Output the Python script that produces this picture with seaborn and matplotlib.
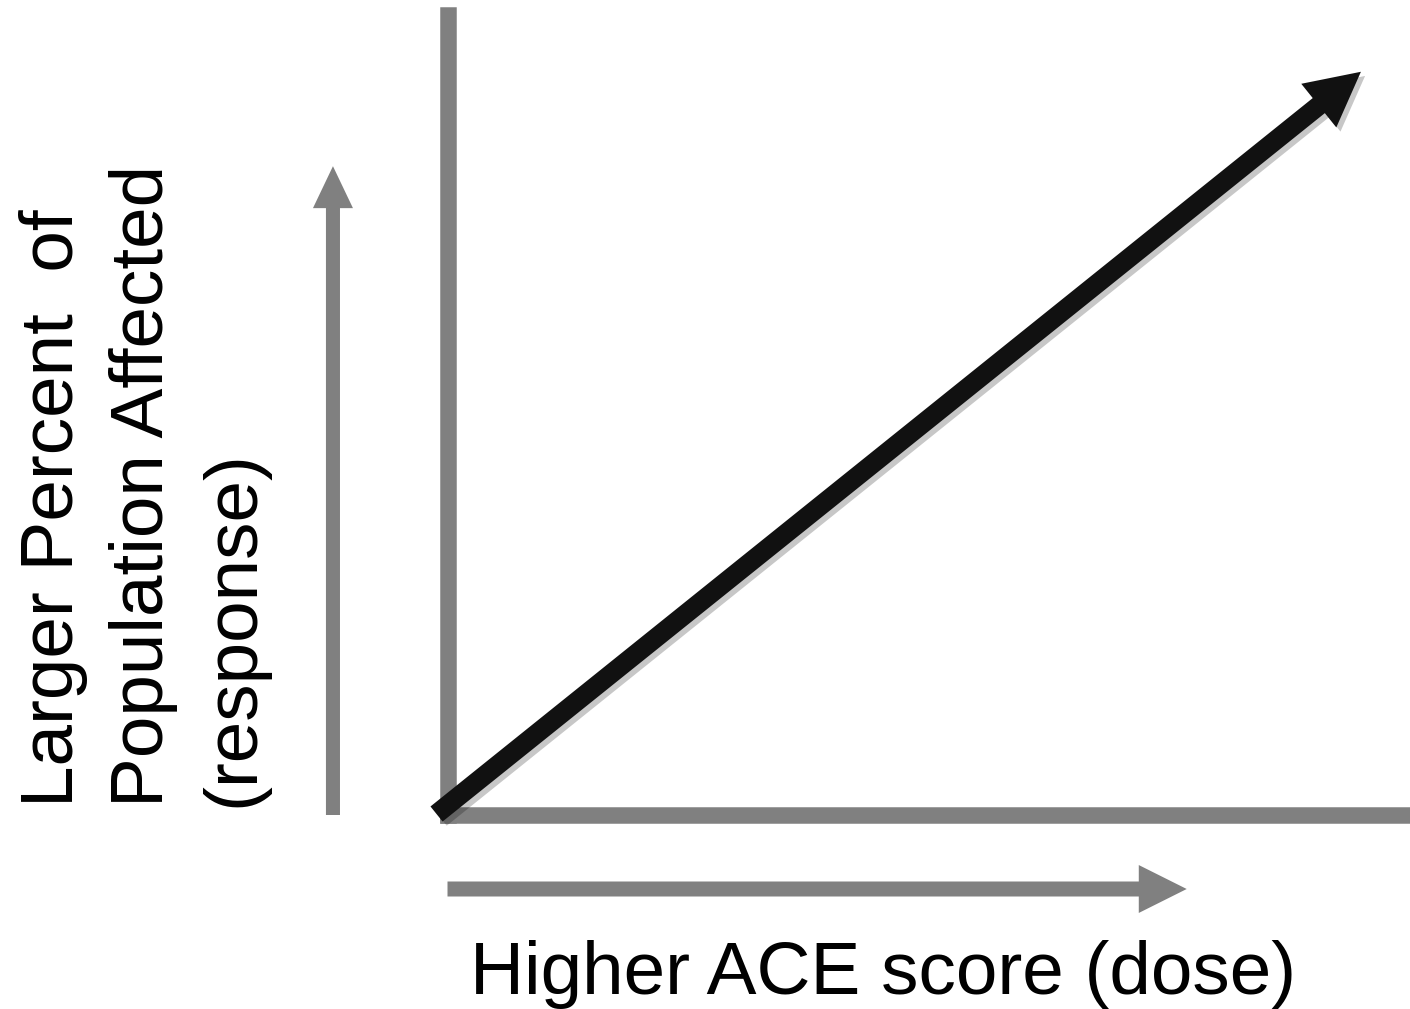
import matplotlib
matplotlib.use("Agg")
import matplotlib.pyplot as plt
import seaborn as sns
from matplotlib import patheffects as pe

# ---- data (schematic dose-response) ----
dose = [0.0, 1.0]
response = [0.0, 1.0]
x_label = "Higher ACE score (dose)"
y_label_lines = ["Larger Percent  of", "Population Affected", "(response)"]

sns.set_theme(style="white")
plt.rcParams["font.family"] = ["Liberation Sans", "DejaVu Sans"]

W, H, DPI = 1410, 1009, 100
fig = plt.figure(figsize=(W / DPI, H / DPI), dpi=DPI)
fig.patch.set_facecolor("white")


def fx(px):
    return px / W


def fy(py):
    return 1 - py / H


GRAY = "#808080"
BLACK = "#111111"

ax = fig.add_axes([fx(447.5), fy(815), fx(1410) - fx(447.5), fy(15) - fy(815)])
ax.set_facecolor("none")
ax.set_xlim(0.01187, 1.0531)
ax.set_ylim(-0.00135, 1.0765)
ax.set_xticks([])
ax.set_yticks([])
sns.despine(ax=ax)
for s in ["left", "bottom"]:
    ax.spines[s].set_linewidth(16.5 * 72 / DPI)
    ax.spines[s].set_color(GRAY)
    ax.spines[s].set_capstyle("projecting")

# main dose-response arrow
ax.annotate(
    "",
    xy=(dose[1], response[1]),
    xytext=(dose[0], response[0]),
    arrowprops=dict(
        arrowstyle="simple,head_length=38.9,head_width=40.3,tail_width=13.9",
        mutation_scale=1,
        shrinkA=0,
        shrinkB=0,
        fc=BLACK,
        ec="none",
        lw=0,
        path_effects=[
            pe.SimplePatchShadow(offset=(3, -3), shadow_rgbFace="black", alpha=0.22),
            pe.Normal(),
        ],
    ),
    annotation_clip=False,
    zorder=5,
)

# gray direction arrows
ax.annotate(
    "",
    xy=(-0.119, 0.811),
    xytext=(-0.119, 0.0),
    xycoords="axes fraction",
    textcoords="axes fraction",
    arrowprops=dict(
        arrowstyle="simple,head_length=30.2,head_width=28.8,tail_width=10.1",
        mutation_scale=1, shrinkA=0, shrinkB=0, fc=GRAY, ec="none", lw=0,
    ),
    annotation_clip=False,
)
ax.annotate(
    "",
    xy=(0.768, -0.0925),
    xytext=(0.0, -0.0925),
    xycoords="axes fraction",
    textcoords="axes fraction",
    arrowprops=dict(
        arrowstyle="simple,head_length=34.5,head_width=34.5,tail_width=10.8",
        mutation_scale=1, shrinkA=0, shrinkB=0, fc=GRAY, ec="none", lw=0,
    ),
    annotation_clip=False,
)

FS = 53.8
fig.text(fx(470), fy(994), x_label, fontsize=FS, ha="left", va="baseline", color="black")
for bx, line in zip([73, 163, 253], y_label_lines):
    fig.text(fx(bx), fy(807), line, fontsize=FS, rotation=90, rotation_mode="anchor",
             ha="left", va="baseline", color="black")

fig.savefig("out.png", dpi=DPI)
